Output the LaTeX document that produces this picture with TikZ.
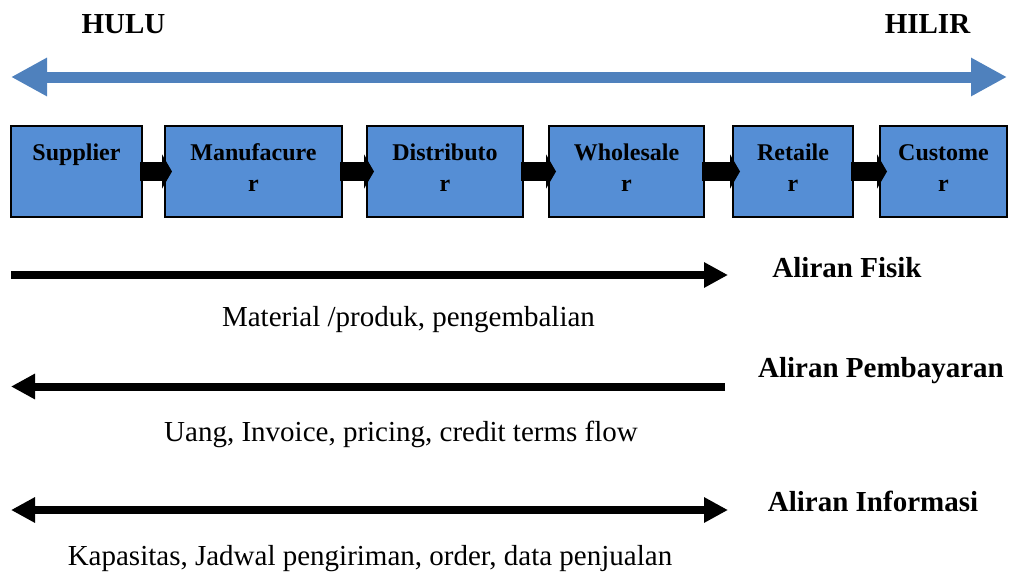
\documentclass[tikz,border=0pt]{standalone}
\usepackage{fontspec}
\setmainfont{Liberation Serif}
\usetikzlibrary{arrows.meta}
\definecolor{boxblue}{RGB}{85,142,213}
\definecolor{spanblue}{RGB}{79,129,189}
% two-line stage label: first line on a strut, second line padded below
\newcommand{\stagetext}[2]{\strut #1\\ #2\rule[-13.7pt]{0pt}{20pt}}
\begin{document}
\begin{tikzpicture}[x=1pt,y=-1pt,
  stage/.style={draw=black, line width=2pt, fill=boxblue, align=center,
    inner sep=0pt, minimum height=91pt,
    font=\fontsize{24}{31}\selectfont\bfseries},
  push/.style={line width=19pt, black, -{Triangle[length=10pt,width=34pt]}},
  flow/.style={line width=8pt, black},
  bighead/.tip={Triangle[length=24pt,width=24pt]},
  span/.style={line width=11pt, spanblue,
    {Triangle[length=36pt,width=36pt]}-{Triangle[length=36pt,width=36pt]}},
  heading/.style={font=\fontsize{29}{34}\selectfont\bfseries, inner sep=0pt, anchor=base},
  note/.style={font=\fontsize{29}{34}\selectfont, inner sep=0pt, anchor=base}]
\useasboundingbox (0,0) rectangle (1009,573);

% upstream / downstream span
\node[heading] (hulu) at (123.5,33) {HULU};
\node[heading] (hilir) at (927.5,33) {HILIR};
\coordinate (spanL) at (11,77);
\coordinate (spanR) at (1007,77);
\draw[span] (spanL) -- (spanR);

% supply chain stages
\node[stage, minimum width=131pt] (sup) at (76.5,171.5) {\stagetext{Supplier}{}};
\node[stage, minimum width=177pt] (man) at (253.5,171.5) {\stagetext{Manufacure}{r}};
\node[stage, minimum width=156pt] (dis) at (445,171.5) {\stagetext{Distributo}{r}};
\node[stage, minimum width=155pt] (who) at (626.5,171.5) {\stagetext{Wholesale}{r}};
\node[stage, minimum width=120pt] (ret) at (793,171.5) {\stagetext{Retaile}{r}};
\node[stage, minimum width=127pt] (cus) at (943.5,171.5) {\stagetext{Custome}{r}};

\begin{scope}[yshift=-1.5pt]
\draw[push] ([xshift=-3pt]sup.east) -- ([xshift=8pt]man.west);
\draw[push] ([xshift=-3pt]man.east) -- ([xshift=8pt]dis.west);
\draw[push] ([xshift=-3pt]dis.east) -- ([xshift=8pt]who.west);
\draw[push] ([xshift=-3pt]who.east) -- ([xshift=8pt]ret.west);
\draw[push] ([xshift=-3pt]ret.east) -- ([xshift=8pt]cus.west);
\end{scope}

% physical flow
\coordinate (fisikL) at (11,275);
\coordinate (fisikR) at (728,275);
\draw[flow, -bighead] (fisikL) -- (fisikR);
\node[heading] (fisik) at (847,277) {Aliran Fisik};
\node[note] (fisikNote) at (408.5,326) {Material /produk, pengembalian};

% payment flow
\coordinate (bayarR) at (725,386.5);
\coordinate (bayarL) at (11,386.5);
\draw[flow, -bighead] (bayarR) -- (bayarL);
\node[heading] (bayar) at (881,377) {Aliran Pembayaran};
\node[note] (bayarNote) at (401,441) {Uang, Invoice, pricing, credit terms flow};

% information flow
\coordinate (infoL) at (11,510);
\coordinate (infoR) at (728,510);
\draw[flow, bighead-bighead] (infoL) -- (infoR);
\node[heading] (info) at (873,511) {Aliran Informasi};
\node[note] (infoNote) at (370,565) {Kapasitas, Jadwal pengiriman, order, data penjualan};
\end{tikzpicture}
\end{document}
